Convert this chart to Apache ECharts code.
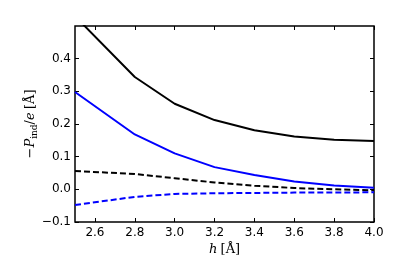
<!DOCTYPE html>
<html><head><meta charset="utf-8">
<script src="https://cdn.jsdelivr.net/npm/echarts@6/dist/echarts.min.js"></script>
<style>html,body{margin:0;padding:0;background:#fff}#c{width:415px;height:262px}</style>
</head><body><div id="c"></div>
<script>
const h = [2.5, 2.8, 3.0, 3.2, 3.4, 3.6, 3.8, 4.0];
const blackSolid = [0.53, 0.344, 0.262, 0.212, 0.181, 0.162, 0.152, 0.148];
const blueSolid = [0.298, 0.168, 0.110, 0.068, 0.044, 0.024, 0.012, 0.005];
const blackDashed = [0.056, 0.047, 0.034, 0.021, 0.011, 0.004, 0.000, -0.003];
const blueDashed = [-0.048, -0.023, -0.014, -0.012, -0.011, -0.010, -0.010, -0.009];
const xTicks = [2.6, 2.8, 3.0, 3.2, 3.4, 3.6, 3.8, 4.0];
const yTicks = [-0.1, 0.0, 0.1, 0.2, 0.3, 0.4];

const pair = arr => h.map((x, i) => [x, arr[i]]);
const font = 'DejaVu Sans';
const tick = {show: true, inside: true, length: 4, lineStyle: {color: '#000', width: 1}};
const chart = echarts.init(document.getElementById('c'), null, {renderer: 'canvas'});
const mkLine = (data, color, dashed) => ({
  type: 'line', data: pair(data), showSymbol: false, symbol: 'none', smooth: false,
  lineStyle: {color: color, width: 2, type: dashed ? [6, 3] : 'solid'},
  xAxisIndex: 0, yAxisIndex: 0, animation: false, clip: true
});
chart.setOption({
  animation: false,
  grid: {left: 75, right: 41, top: 26, bottom: 40, show: true, borderColor: '#000', borderWidth: 1.5, backgroundColor: 'transparent'},
  xAxis: [{
    type: 'value', min: 2.5, max: 4.0, position: 'bottom',
    axisLine: {show: false, onZero: false}, splitLine: {show: false},
    axisTick: Object.assign({customValues: xTicks}, tick),
    axisLabel: {customValues: xTicks, color: '#000', fontFamily: font, fontSize: 12, margin: 5, formatter: v => v.toFixed(1)},
    name: '{i|h} {r|[Å]}', nameLocation: 'middle', nameGap: 21, nameMoveOverlap: false,
    nameTextStyle: {rich: {i: {fontFamily: 'DejaVu Serif', fontStyle: 'italic', fontSize: 13, color: '#000'}, r: {fontFamily: 'DejaVu Serif', fontSize: 13, color: '#000'}}}
  }, {
    type: 'value', min: 2.5, max: 4.0, position: 'top',
    axisLine: {show: false, onZero: false}, splitLine: {show: false},
    axisTick: Object.assign({customValues: xTicks}, tick),
    axisLabel: {show: false}
  }],
  yAxis: [{
    type: 'value', min: -0.1, max: 0.5, position: 'left',
    axisLine: {show: false, onZero: false}, splitLine: {show: false},
    axisTick: Object.assign({customValues: yTicks}, tick),
    axisLabel: {customValues: yTicks, color: '#000', fontFamily: font, fontSize: 12, margin: 4, formatter: v => (v < 0 ? '\u2212' : '') + Math.abs(v).toFixed(1)},
    name: '{r|\u2212}{i|P}{s|ind}{r|/}{i|e} {r|[Å]}', nameLocation: 'middle', nameGap: 36, nameRotate: 90, nameMoveOverlap: false,
    nameTextStyle: {rich: {
      i: {fontFamily: 'DejaVu Serif', fontStyle: 'italic', fontSize: 13, color: '#000'},
      r: {fontFamily: 'DejaVu Serif', fontSize: 13, color: '#000'},
      s: {fontFamily: 'DejaVu Serif', fontSize: 9, color: '#000', padding: [8, 0, 0, 0]}
    }}
  }, {
    type: 'value', min: -0.1, max: 0.5, position: 'right',
    axisLine: {show: false, onZero: false}, splitLine: {show: false},
    axisTick: Object.assign({customValues: yTicks}, tick),
    axisLabel: {show: false}
  }],
  series: [
    mkLine(blackSolid, '#000', false),
    mkLine(blueSolid, '#0000ff', false),
    mkLine(blackDashed, '#000', true),
    mkLine(blueDashed, '#0000ff', true)
  ]
});
</script></body></html>
